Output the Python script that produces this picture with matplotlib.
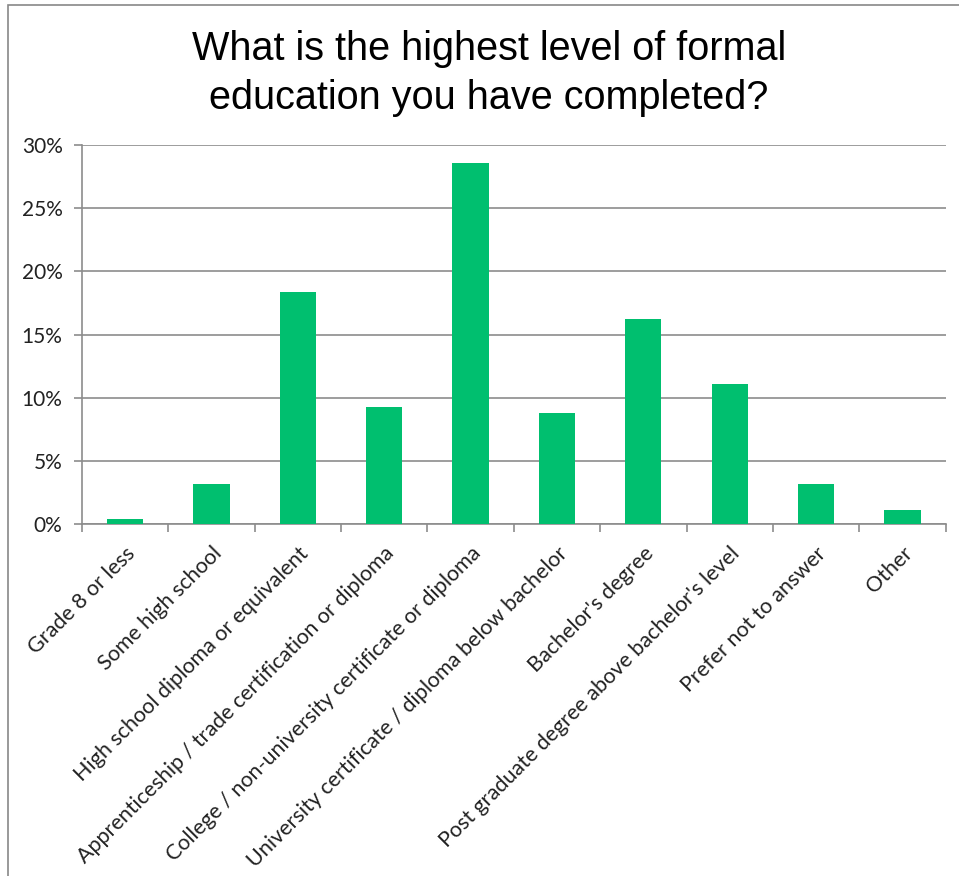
# bar chart of highest completed education level
import matplotlib.pyplot as plt
from matplotlib.patches import Rectangle
import numpy as np

categories = [
    "Grade 8 or less",
    "Some high school",
    "High school diploma or equivalent",
    "Apprenticeship / trade certification or diploma",
    "College / non-university certificate or diploma",
    "University certificate / diploma below bachelor",
    "Bachelor's degree",
    "Post graduate degree above bachelor's level",
    "Prefer not to answer",
    "Other",
]
percent = [0.4, 3.2, 18.4, 9.3, 28.6, 8.8, 16.2, 11.1, 3.2, 1.1]
yticks = [0, 5, 10, 15, 20, 25, 30]

green = "#00BF6F"
grid_grey = "#8C8C8C"

fig = plt.figure(figsize=(9.59, 8.76), dpi=100)
ax = fig.add_axes([0.0855, 0.4018, 0.9005, 0.4327])

x = np.arange(len(categories))
ax.bar(x, percent, width=0.42, color=green, zorder=3)

ax.set_xlim(-0.5, len(categories) - 0.5)
ax.set_ylim(0, 30)
ax.set_yticks(yticks)
ax.set_yticklabels([f"{t}%" for t in yticks], fontsize=15, family="Lato", color="#222222")
ax.grid(axis="y", color=grid_grey, linewidth=1.2, zorder=0)
ax.tick_params(axis="y", length=6, color=grid_grey, width=1.2, pad=8)

# category ticks sit on the boundaries, labels at the centres
ax.set_xticks(np.arange(len(categories) + 1) - 0.5)
ax.set_xticklabels([])
ax.set_xticks(x, minor=True)
ax.set_xticklabels(categories, minor=True, rotation=45, ha="right",
                   rotation_mode="anchor", fontsize=15.5, family="Lato", color="#222222")
ax.tick_params(axis="x", which="major", length=6, color=grid_grey, width=1.2)
ax.tick_params(axis="x", which="minor", length=0, pad=14)

for side in ["top", "right"]:
    ax.spines[side].set_visible(False)
for side in ["left", "bottom"]:
    ax.spines[side].set_color(grid_grey)
    ax.spines[side].set_linewidth(1.2)

fig.text(0.51, 0.916, "What is the highest level of formal\neducation you have completed?",
         ha="center", va="center", fontsize=28.5, family="Liberation Sans",
         linespacing=1.38)

# frame around the chart area
fig.patches.append(Rectangle((0.008, -0.01), 1.2, 1.004, transform=fig.transFigure,
                             fill=False, edgecolor="#888888", linewidth=1.2))

fig.savefig("out.png", dpi=100)
